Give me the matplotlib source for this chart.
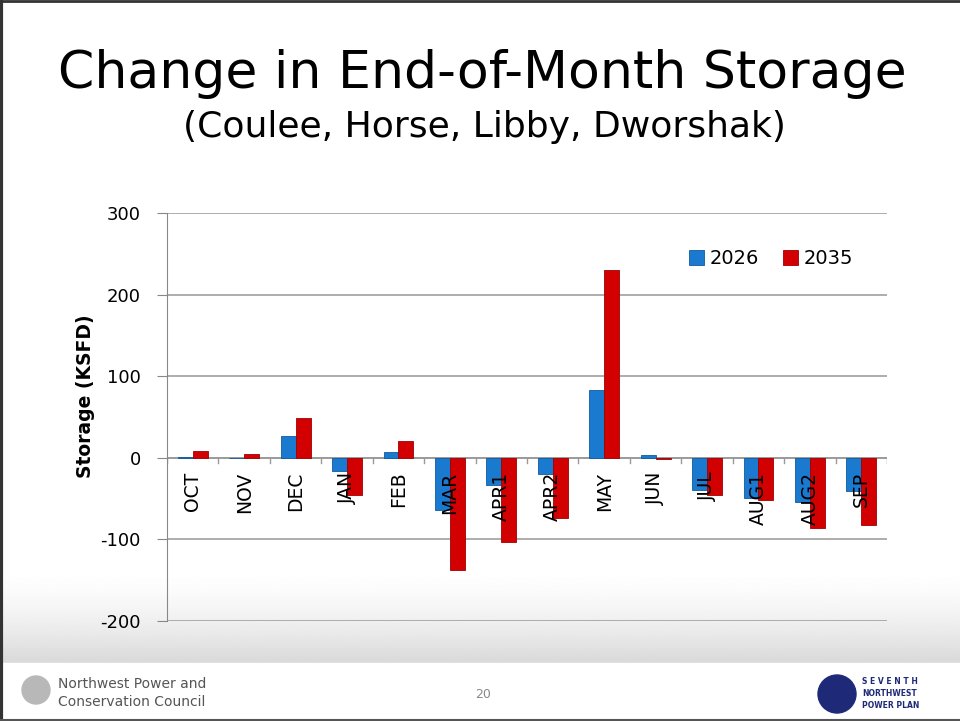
"""
change in end-of-month storage
"""
import matplotlib
matplotlib.use('Agg')
import matplotlib.pyplot as plt
import numpy as np
from matplotlib.patches import Rectangle, Circle

plt.rcParams['axes.unicode_minus'] = False

months = ['OCT', 'NOV', 'DEC', 'JAN', 'FEB', 'MAR', 'APR1', 'APR2',
          'MAY', 'JUN', 'JUL', 'AUG1', 'AUG2', 'SEP']
s2026 = [0.5, -0.5, 27, -16, 7, -64, -33, -20, 83, 3.5, -40, -49, -54, -41]
s2035 = [8, 5, 49, -45, 21, -137, -103, -74, 230, -1, -46, -52, -86, -82]
yticks = [-200, -100, 0, 100, 200, 300]


def draw_chart():
    fig = plt.figure(figsize=(9.6, 7.21), dpi=100)

    # slide background: gray gradient near the bottom, white footer strip
    bg = fig.add_axes([0, 0, 1, 1], zorder=-10)
    bg.set_xlim(0, 960)
    bg.set_ylim(721, 0)
    bg.axis('off')
    grad = np.linspace(0, 1, 100).reshape(-1, 1) ** 1.5
    bg.imshow(1 - 0.15 * grad, cmap='gray', vmin=0, vmax=1, aspect='auto',
              extent=[0, 960, 663, 570], zorder=0)
    bg.add_patch(Rectangle((0, 663), 960, 58, color='white', zorder=1))
    bg.plot([1, 1], [0, 721], color='#333333', lw=3, zorder=5)
    bg.plot([0, 960], [1, 1], color='#333333', lw=2, zorder=5)
    bg.plot([0, 960], [720, 720], color='#555555', lw=1.5, zorder=5)

    # footer
    bg.add_patch(Circle((36, 690), 14, color='#b8b8b8', zorder=2))
    bg.text(58, 684, 'Northwest Power and', fontsize=10, color='#555555',
            va='center', zorder=3)
    bg.text(58, 702, 'Conservation Council', fontsize=10, color='#555555',
            va='center', zorder=3)
    bg.text(483, 694, '20', fontsize=9, color='#888888', ha='center',
            va='center', zorder=3)
    bg.add_patch(Circle((837, 694), 19, color='#1e2a78', zorder=2))
    bg.text(862, 682, 'S E V E N T H', fontsize=5.5, color='#1e2a78',
            fontweight='bold', va='center', zorder=3)
    bg.text(862, 694, 'NORTHWEST', fontsize=5.5, color='#1e2a78',
            fontweight='bold', va='center', zorder=3)
    bg.text(862, 706, 'POWER PLAN', fontsize=5.5, color='#1e2a78',
            fontweight='bold', va='center', zorder=3)

    # titles
    bg.text(482, 74, 'Change in End-of-Month Storage', fontsize=37.5,
            ha='center', va='center', color='black', zorder=3)
    bg.text(484, 127, '(Coulee, Horse, Libby, Dworshak)', fontsize=26,
            ha='center', va='center', color='black', zorder=3)

    ax = fig.add_axes([0.174, 0.1387, 0.75, 0.5659])
    ax.patch.set_alpha(0)
    x = np.arange(len(months))
    w = 0.29
    ax.bar(x - w / 2, s2026, w, color='#1a7ad0', edgecolor='#0f5a9e',
           lw=0.6, label='2026', zorder=3)
    ax.bar(x + w / 2, s2035, w, color='#d20000', edgecolor='#9e0000',
           lw=0.6, label='2035', zorder=3)

    ax.set_xlim(-0.5, len(months) - 0.5)
    ax.set_ylim(-200, 300)
    ax.set_yticks(yticks)
    ax.tick_params(axis='y', labelsize=13, length=7, color='#888888',
                   direction='out', pad=12)
    ax.set_xticks([])
    ax.yaxis.grid(True, color='#a0a0a0', lw=1.2, zorder=0)
    for s in ['top', 'right', 'bottom']:
        ax.spines[s].set_visible(False)
    ax.spines['left'].set_color('#888888')
    ax.axhline(0, color='#999999', lw=1.2, zorder=2)
    for b in np.arange(len(months) + 1) - 0.5:
        ax.plot([b, b], [0, -6], color='#999999', lw=1, zorder=2)

    for i, m in enumerate(months):
        ax.annotate(m, (i, 0), xytext=(0, -10), textcoords='offset points',
                    rotation=90, ha='center', va='top', fontsize=13.5,
                    zorder=4)

    ax.set_ylabel('Storage (KSFD)', fontsize=13.5, fontweight='bold')
    ax.yaxis.set_label_coords(-0.1, 0.55)

    ax.legend(loc='upper left', bbox_to_anchor=(0.7, 0.955), ncol=2,
              frameon=False, fontsize=14, handlelength=0.8,
              handleheight=0.8, columnspacing=1.2, handletextpad=0.3)

    plt.savefig('out.png', dpi=100)


if __name__ == "__main__":
    draw_chart()
